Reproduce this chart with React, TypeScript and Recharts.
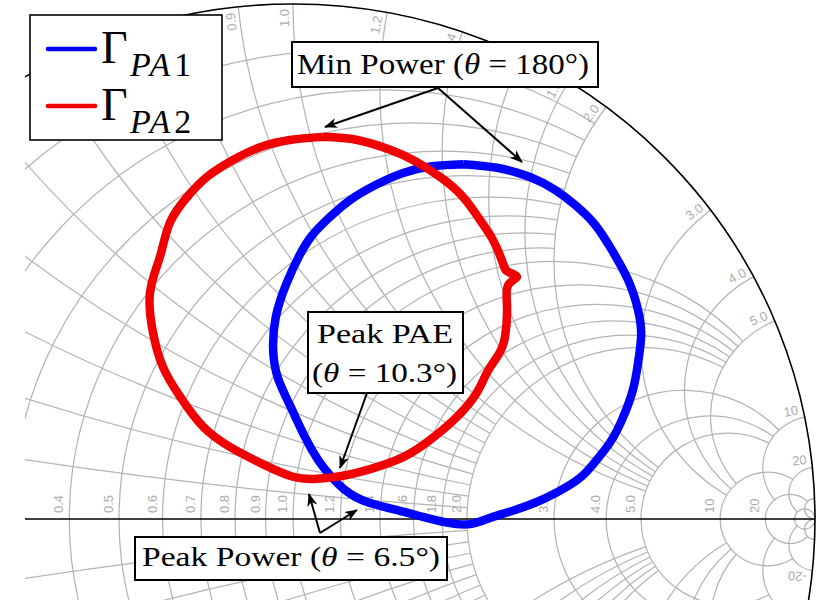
import React from 'react';
import { ScatterChart, Scatter, XAxis, YAxis, Customized } from 'recharts';

// canvas, and where Γ = 0 sits (the picture is a crop of the full chart)
const W = 820;
const H = 600;
const CX = 293;
const CY = 519;
const RX = 522;
const RY = 515;
const LEFT_EDGE = 25;

// Γ_PA1 (blue loop)
const pa1Re = [0.326, 0.391, 0.454, 0.502, 0.540, 0.579, 0.611, 0.642, 0.661, 0.667, 0.661, 0.651, 0.630, 0.607, 0.582, 0.550, 0.506, 0.467, 0.421, 0.377, 0.339, 0.295, 0.249, 0.205, 0.142, 0.100, 0.071, 0.048, 0.023, -0.006, -0.029, -0.038, -0.033, -0.013, 0.013, 0.036, 0.065, 0.109, 0.161, 0.211, 0.266];
const pa1Im = [0.689, 0.682, 0.664, 0.639, 0.610, 0.571, 0.522, 0.464, 0.406, 0.357, 0.303, 0.250, 0.192, 0.148, 0.115, 0.080, 0.052, 0.033, 0.016, 0.002, -0.010, -0.007, 0.004, 0.016, 0.033, 0.056, 0.085, 0.115, 0.159, 0.221, 0.274, 0.328, 0.392, 0.456, 0.513, 0.550, 0.581, 0.619, 0.650, 0.672, 0.685];

// Γ_PA2 (red loop)
const pa2Re = [0.057, 0.123, 0.186, 0.230, 0.282, 0.326, 0.358, 0.383, 0.402, 0.412, 0.429, 0.412, 0.410, 0.406, 0.393, 0.372, 0.352, 0.314, 0.262, 0.211, 0.148, 0.090, 0.046, 0.000, -0.063, -0.121, -0.172, -0.216, -0.249, -0.268, -0.274, -0.255, -0.236, -0.203, -0.165, -0.115, -0.063, -0.006];
const pa2Im = [0.742, 0.736, 0.717, 0.697, 0.664, 0.625, 0.581, 0.542, 0.497, 0.480, 0.470, 0.454, 0.412, 0.353, 0.318, 0.285, 0.245, 0.198, 0.153, 0.120, 0.097, 0.083, 0.078, 0.082, 0.109, 0.140, 0.179, 0.237, 0.295, 0.361, 0.439, 0.509, 0.575, 0.625, 0.664, 0.697, 0.722, 0.736];

// smith grid: circle values, the value where each one stops, and tick labels
const gridValues = [0.1, 0.2, 0.3, 0.4, 0.5, 0.6, 0.7, 0.8, 0.9, 1, 1.2, 1.4, 1.6, 1.8, 2, 3, 4, 5, 10, 20, 50];
const gridLimits = [2, 2, 2, 2, 2, 2, 2, 2, 2, 5, 5, 5, 5, 5, 5, 10, 10, 10, 20, 50, Infinity];
const gridLabels = ['0.1', '0.2', '0.3', '0.4', '0.5', '0.6', '0.7', '0.8', '0.9', '1.0', '1.2', '1.4', '1.6', '1.8', '2.0', '3.0', '4.0', '5.0', '10', '20', ''];

const BLUE = '#0000ff';
const RED = '#f00000';
const GRID = '#b4b4b4';
const SERIF = '"Liberation Serif", "Times New Roman", serif';

const toPoints = (re: number[], im: number[]) => {
  const pts = re.map((r, i) => ({ re: r, im: im[i] }));
  return [...pts, pts[0]];
};
const pa1 = toPoints(pa1Re, pa1Im);
const pa2 = toPoints(pa2Re, pa2Im);

const xDomain = [-CX / RX, (W - CX) / RX];
const yDomain = [(CY - H) / RY, CY / RY];

const sx = (re: number) => CX + re * RX;
const sy = (im: number) => CY - im * RY;

// z = r + jx  ->  Γ
const gamma = (r: number, x: number) => {
  const d = (r + 1) * (r + 1) + x * x;
  return [(r * r - 1 + x * x) / d, (2 * x) / d];
};

const resistancePath = (r: number, lim: number) => {
  const c = r / (1 + r);
  const rad = 1 / (1 + r);
  const rx = rad * RX;
  const ry = rad * RY;
  if (!isFinite(lim)) {
    return `M ${sx(c - rad)} ${CY} A ${rx} ${ry} 0 1 0 ${sx(c + rad)} ${CY} A ${rx} ${ry} 0 1 0 ${sx(c - rad)} ${CY}`;
  }
  const [ar, ai] = gamma(r, lim);
  const [br, bi] = gamma(r, -lim);
  const large = ar > c ? 1 : 0;
  return `M ${sx(ar)} ${sy(ai)} A ${rx} ${ry} 0 ${large} 0 ${sx(br)} ${sy(bi)}`;
};

const reactancePath = (x: number, lim: number) => {
  const rad = 1 / Math.abs(x);
  const [s0, s1] = gamma(0, x);
  const [e0, e1] = isFinite(lim) ? gamma(lim, x) : [1, 0];
  return `M ${sx(s0)} ${sy(s1)} A ${rad * RX} ${rad * RY} 0 0 ${x > 0 ? 0 : 1} ${sx(e0)} ${sy(e1)}`;
};

const inView = (x: number, y: number) => x > LEFT_EDGE + 16 && y > 2 && y < H - 16;

function SmithGrid() {
  const labelStyle = { fontFamily: '"Liberation Sans", Arial, sans-serif', fontSize: 13, fill: '#acacac' };
  return (
    <g>
      <defs>
        <clipPath id="crop">
          <rect x={LEFT_EDGE} y={0} width={W - LEFT_EDGE} height={H} />
        </clipPath>
      </defs>
      <g clipPath="url(#crop)">
        {gridValues.map((v, i) => (
          <g key={v} fill="none" stroke={GRID} strokeWidth={1.25}>
            <path d={resistancePath(v, gridLimits[i])} />
            <path d={reactancePath(v, gridLimits[i])} />
            <path d={reactancePath(-v, gridLimits[i])} />
          </g>
        ))}
        <line x1={sx(-1)} x2={sx(1)} y1={CY} y2={CY} stroke="#000" strokeWidth={1.6} />
        <ellipse cx={CX} cy={CY} rx={RX} ry={RY} fill="none" stroke="#000" strokeWidth={1.6} />
      </g>
      {gridValues.map((v, i) => {
        const px = sx((v - 1) / (v + 1));
        if (!gridLabels[i] || !inView(px, CY)) return null;
        return (
          <text key={'r' + v} transform={`translate(${px},${CY}) rotate(-90)`} x={6} y={-6} {...labelStyle}>
            {gridLabels[i]}
          </text>
        );
      })}
      {gridValues.map((v, i) => {
        const phi = Math.PI - 2 * Math.atan(v);
        const px = sx(Math.cos(phi)) - 5 * Math.cos(phi);
        const py = sy(Math.sin(phi)) + 5 * Math.sin(phi);
        if (!gridLabels[i] || !inView(px, py)) return null;
        const deg = (phi * 180) / Math.PI;
        return (
          <text key={'x' + v} transform={`translate(${px},${py}) rotate(${-deg})`} x={0} y={-4} textAnchor="end" {...labelStyle}>
            {gridLabels[i]}
          </text>
        );
      })}
      {gridValues.map((v, i) => {
        const phi = -(Math.PI - 2 * Math.atan(v));
        const px = sx(Math.cos(phi)) - 5 * Math.cos(phi);
        const py = sy(Math.sin(phi)) + 5 * Math.sin(phi);
        if (!gridLabels[i] || !inView(px, py)) return null;
        const deg = (phi * 180) / Math.PI;
        return (
          <text key={'n' + v} transform={`translate(${px},${py}) rotate(${180 - deg})`} x={0} y={-3} {...labelStyle}>
            {'-' + gridLabels[i]}
          </text>
        );
      })}
    </g>
  );
}

const arrows = [
  [438, 88, 325, 127],
  [438, 88, 522, 162],
  [367, 393, 340, 468],
  [320, 533, 309, 494],
  [320, 533, 357, 510],
];

function Annotations() {
  const rows = [
    { color: BLUE, sub: '1', y: 49 },
    { color: RED, sub: '2', y: 106 },
  ];
  return (
    <g fontFamily={SERIF}>
      <defs>
        <marker id="arrowHead" viewBox="0 0 13 10" refX={12} refY={5} markerWidth={13} markerHeight={10} markerUnits="userSpaceOnUse" orient="auto">
          <path d="M0,0 L13,5 L0,10 L3.5,5 Z" fill="#000" />
        </marker>
      </defs>

      <rect x={30} y={15} width={192} height={125} fill="#fff" stroke="#000" strokeWidth={1.6} />
      {rows.map((r) => (
        <g key={r.sub}>
          <line x1={48} x2={95} y1={r.y} y2={r.y} stroke={r.color} strokeWidth={4.5} strokeLinecap="round" />
          <text x={101} y={r.y + 14} fontSize={46}>Γ</text>
          <text x={130} y={r.y + 27} fontSize={34}>
            <tspan fontStyle="italic">P</tspan>
            <tspan dx={3} fontStyle="italic">A</tspan>
            <tspan dx={4}>{r.sub}</tspan>
          </text>
        </g>
      ))}

      {arrows.map((a, i) => (
        <line key={i} x1={a[0]} y1={a[1]} x2={a[2]} y2={a[3]} stroke="#000" strokeWidth={2} markerEnd="url(#arrowHead)" />
      ))}

      <rect x={292} y={42} width={306} height={45} fill="#fff" stroke="#000" strokeWidth={2} />
      <text x={297} y={74} fontSize={29} textLength={292} lengthAdjust="spacingAndGlyphs">
        Min Power (<tspan fontStyle="italic">θ</tspan> = 180°)
      </text>

      <rect x={308} y={312} width={155} height={81} fill="#fff" stroke="#000" strokeWidth={2} />
      <text x={317} y={343} fontSize={28} textLength={136} lengthAdjust="spacingAndGlyphs">Peak PAE</text>
      <text x={312} y={382} fontSize={28} textLength={145} lengthAdjust="spacingAndGlyphs">
        (<tspan fontStyle="italic">θ</tspan> = 10.3°)
      </text>

      <rect x={135} y={537} width={312} height={43} fill="#fff" stroke="#000" strokeWidth={2} />
      <text x={142} y={566} fontSize={28} textLength={298} lengthAdjust="spacingAndGlyphs">
        Peak Power (<tspan fontStyle="italic">θ</tspan> = 6.5°)
      </text>
    </g>
  );
}

export default function App() {
  return (
    <div style={{ position: 'absolute', left: 0, top: 0, width: W, height: H, background: '#fff' }}>
      <ScatterChart width={W} height={H} margin={{ top: 0, right: 0, bottom: 0, left: 0 }}>
        <XAxis type="number" dataKey="re" domain={xDomain} allowDataOverflow hide />
        <YAxis type="number" dataKey="im" domain={yDomain} allowDataOverflow hide />
        <Customized component={<SmithGrid />} />
        <Scatter
          name="Γ_PA1"
          data={pa1}
          line={{ stroke: BLUE, strokeWidth: 8.5, strokeLinejoin: 'round' }}
          lineJointType="natural"
          shape={() => null}
          isAnimationActive={false}
        />
        <Scatter
          name="Γ_PA2"
          data={pa2}
          line={{ stroke: RED, strokeWidth: 8.5, strokeLinejoin: 'round' }}
          lineJointType="natural"
          shape={() => null}
          isAnimationActive={false}
        />
        <Customized component={<Annotations />} />
      </ScatterChart>
    </div>
  );
}
